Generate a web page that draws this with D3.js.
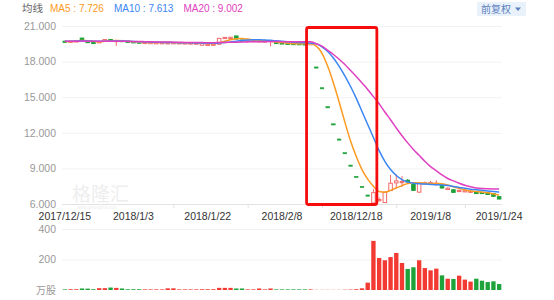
<!DOCTYPE html>
<html>
<head>
<meta charset="utf-8">
<script src="https://cdn.jsdelivr.net/npm/d3@7"></script>
<style>
  body { margin: 0; background: #fff; }
  svg { display: block; font-family: 'Liberation Sans', 'Noto Sans CJK SC', sans-serif; }
</style>
</head>
<body>
<svg id="chart" width="554" height="300"></svg>
<script>
const dates = [
  '2017/12/15', '2017/12/18', '2017/12/19', '2017/12/20', '2017/12/21', '2017/12/22', '2017/12/25', '2017/12/26',
  '2017/12/27', '2017/12/28', '2017/12/29', '2018/1/2', '2018/1/3', '2018/1/4', '2018/1/5', '2018/1/8',
  '2018/1/9', '2018/1/10', '2018/1/11', '2018/1/12', '2018/1/15', '2018/1/16', '2018/1/17', '2018/1/18',
  '2018/1/19', '2018/1/22', '2018/1/23', '2018/1/24', '2018/1/25', '2018/1/26', '2018/1/29', '2018/1/30',
  '2018/1/31', '2018/2/1', '2018/2/2', '2018/2/5', '2018/2/6', '2018/2/7', '2018/2/8', '2018/2/9',
  '2018/2/12', '2018/2/13', '2018/2/14', '2018/12/6', '2018/12/7', '2018/12/10', '2018/12/11', '2018/12/12',
  '2018/12/13', '2018/12/14', '2018/12/17', '2018/12/18', '2018/12/19', '2018/12/20', '2018/12/21', '2018/12/24',
  '2018/12/25', '2018/12/26', '2018/12/27', '2018/12/28', '2019/1/2', '2019/1/3', '2019/1/4', '2019/1/7',
  '2019/1/8', '2019/1/9', '2019/1/10', '2019/1/11', '2019/1/14', '2019/1/15', '2019/1/16', '2019/1/17',
  '2019/1/18', '2019/1/21', '2019/1/22', '2019/1/23', '2019/1/24'
]

const open = [
  19.72, 19.68, 19.72, 19.98, 19.70, 19.62, 19.58, 19.72, 19.86, 19.72, 19.78, 19.72, 19.68, 19.65, 19.58, 19.58,
  19.57, 19.56, 19.56, 19.57, 19.56, 19.55, 19.54, 19.53, 19.38, 19.42, 19.42, 19.46, 19.96, 19.98, 20.16, 19.82,
  19.76, 19.74, 19.72, 19.70, 19.70, 19.62, 19.58, 19.55, 19.53, 19.52, 19.50, 19.50,
  17.55, 15.80, 14.20, 12.76, 11.48, 10.33, 9.28, 8.33, 7.48, 6.76,
  6.08, 6.30, 6.12, 7.13, 7.78, 7.80, 8.00, 7.65, 7.00, 7.70, 7.72, 7.65, 7.60, 7.22, 7.20, 7.05,
  7.05, 7.00, 7.05, 6.98, 6.95, 6.88, 6.62
]
const high = [
  19.74, 19.74, 19.78, 20.00, 19.72, 19.64, 19.72, 19.90, 19.88, 19.82, 19.80, 19.74, 19.70, 19.66, 19.64, 19.63,
  19.62, 19.62, 19.61, 19.62, 19.61, 19.60, 19.59, 19.58, 19.60, 19.48, 19.49, 19.98, 20.08, 20.08, 20.18, 19.84,
  19.82, 19.80, 19.78, 19.76, 19.82, 19.64, 19.60, 19.56, 19.55, 19.53, 19.52, 19.52,
  17.55, 15.80, 14.20, 12.76, 11.48, 10.33, 9.28, 8.33, 7.48, 6.76,
  7.25, 6.55, 7.05, 8.45, 8.50, 8.35, 8.10, 7.75, 7.85, 7.90, 7.95, 8.00, 7.65, 7.40, 7.25, 7.20,
  7.20, 7.15, 7.10, 7.05, 7.00, 6.90, 6.65
]
const low = [
  19.66, 19.66, 19.70, 19.74, 19.56, 19.54, 19.56, 19.70, 19.72, 19.32, 19.70, 19.66, 19.62, 19.58, 19.56, 19.56,
  19.55, 19.54, 19.54, 19.55, 19.54, 19.53, 19.52, 19.51, 19.36, 19.40, 19.40, 19.44, 19.94, 19.96, 19.88, 19.76,
  19.74, 19.72, 19.70, 19.68, 19.28, 19.54, 19.50, 19.48, 19.46, 19.45, 19.46, 19.48,
  17.55, 15.80, 14.20, 12.76, 11.48, 10.33, 9.28, 8.33, 7.48, 6.76,
  6.08, 6.20, 6.10, 7.10, 7.35, 7.45, 7.80, 7.10, 6.95, 7.65, 7.65, 7.55, 7.30, 7.18, 6.95, 7.00,
  7.00, 6.95, 6.85, 6.85, 6.78, 6.60, 6.40
]
const close = [
  19.68, 19.72, 19.75, 19.76, 19.60, 19.57, 19.70, 19.86, 19.74, 19.78, 19.72, 19.68, 19.64, 19.60, 19.62, 19.61,
  19.60, 19.60, 19.59, 19.60, 19.59, 19.58, 19.57, 19.56, 19.58, 19.46, 19.47, 19.96, 20.04, 20.05, 19.90, 19.78,
  19.80, 19.78, 19.76, 19.74, 19.78, 19.56, 19.52, 19.50, 19.48, 19.47, 19.48, 19.50,
  17.55, 15.80, 14.20, 12.76, 11.48, 10.33, 9.28, 8.33, 7.48, 6.76,
  6.96, 6.38, 7.00, 7.75, 7.95, 7.90, 7.85, 7.15, 7.80, 7.78, 7.80, 7.75, 7.35, 7.33, 6.98, 7.15,
  7.12, 7.08, 6.88, 6.90, 6.80, 6.65, 6.42
]
// 万股
const volume = [
  4, 5, 5, 10, 9, 5, 12, 12, 16, 14, 10, 5, 5, 5, 4, 4, 4, 4, 11, 11, 4, 4, 4, 4, 5, 5, 5, 14, 14, 14, 10, 10,
  4, 4, 10, 4, 10, 4, 4, 4, 4, 4, 4, 4,
  1, 1, 1, 1, 1, 2, 3, 5, 11, 48,
  322, 210, 195, 216, 243, 177, 138, 149, 195, 144, 129, 140, 96, 74, 72, 94, 68, 55, 74, 61, 52, 57, 39
]

const ma5 = [
  19.70, 19.70, 19.72, 19.78, 19.76, 19.72, 19.68, 19.72, 19.76, 19.78, 19.76, 19.72, 19.68, 19.64, 19.62, 19.61,
  19.60, 19.60, 19.60, 19.60, 19.59, 19.58, 19.57, 19.56, 19.55, 19.53, 19.50, 19.60, 19.72, 19.84, 19.92, 19.94,
  19.90, 19.84, 19.80, 19.77, 19.72, 19.66, 19.60, 19.55, 19.52, 19.50, 19.50, 19.50,
  19.30, 18.70, 17.60, 16.20, 14.60, 12.90, 11.30, 10.00, 8.90, 8.10,
  7.50, 7.05, 7.00, 7.15, 7.35, 7.55, 7.72, 7.80, 7.80, 7.75, 7.72, 7.73, 7.70, 7.60, 7.45, 7.30,
  7.20, 7.10, 7.05, 7.00, 6.95, 6.85, 6.75
]
const ma10 = [
  19.72, 19.72, 19.73, 19.75, 19.74, 19.72, 19.71, 19.72, 19.73, 19.74, 19.74, 19.72, 19.70, 19.68, 19.66, 19.65,
  19.63, 19.62, 19.61, 19.60, 19.59, 19.58, 19.58, 19.57, 19.56, 19.55, 19.55, 19.57, 19.61, 19.66, 19.72, 19.77,
  19.81, 19.84, 19.84, 19.82, 19.79, 19.75, 19.71, 19.67, 19.63, 19.60, 19.58, 19.56,
  19.50, 19.25, 18.85, 18.30, 17.60, 16.80, 15.90, 14.90, 13.80, 12.70,
  11.60, 10.50, 9.60, 8.90, 8.40, 8.05, 7.85, 7.75, 7.70, 7.68, 7.65, 7.62, 7.60, 7.55, 7.48, 7.40,
  7.32, 7.25, 7.20, 7.15, 7.10, 7.05, 7.00
]
const ma20 = [
  19.72, 19.72, 19.72, 19.73, 19.72, 19.71, 19.71, 19.72, 19.72, 19.72, 19.72, 19.71, 19.70, 19.69, 19.68, 19.67,
  19.66, 19.66, 19.65, 19.64, 19.63, 19.62, 19.61, 19.60, 19.60, 19.59, 19.59, 19.60, 19.62, 19.63, 19.64, 19.65,
  19.66, 19.67, 19.67, 19.68, 19.69, 19.69, 19.68, 19.68, 19.68, 19.68, 19.68, 19.68,
  19.50, 19.30, 18.95, 18.60, 18.20, 17.75, 17.25, 16.75, 16.20, 15.65,
  15.05, 14.45, 13.75, 13.10, 12.40, 11.75, 11.15, 10.60, 10.10, 9.60, 9.15, 8.80, 8.45, 8.15, 7.95, 7.75,
  7.58, 7.45, 7.35, 7.30, 7.28, 7.27, 7.27
]

const priceTicks = [6, 9, 12, 15, 18, 21]
const volumeTicks = [200, 400]
const dateLabels = ['2017/12/15', '2018/1/3', '2018/1/22', '2018/2/8', '2018/12/18', '2019/1/8', '2019/1/24']
const dateTicks = ['2018/1/12', '2018/1/31', '2018/12/10', '2018/12/27', '2019/1/16']
const legend = [
  { name: 'MA5', value: '7.726', color: '#fd9a21' },
  { name: 'MA10', value: '7.613', color: '#3b86f4' },
  { name: 'MA20', value: '9.002', color: '#e040c0' }
]
const highlight = { from: '2018/2/14', to: '2018/12/21' }

const upColor = '#f23a33'
const downColor = '#1ea23a'

const svg = d3.select('#chart')
const left = 62
const right = 502

const x = d3.scaleBand().domain(dates).range([left, right])
const bw = x.bandwidth()
const cx = d => x(d) + bw / 2
const yPrice = d3.scaleLinear().domain([6, 21]).range([204, 26])
const yVol = d3.scaleLinear().domain([0, 400]).range([290, 229])

const bars = dates.map((date, i) => {
  let up = close[i] > open[i]
  if (close[i] === open[i]) up = i > 0 ? close[i] >= close[i - 1] : true
  return { date, open: open[i], high: high[i], low: low[i], close: close[i], volume: volume[i], up, volUp: close[i] >= open[i] }
})

svg.append('rect').attr('width', 554).attr('height', 300).attr('fill', '#fff')

// legend
svg.append('text')
  .attr('x', 22).attr('y', 12)
  .attr('font-size', 10.5).attr('fill', '#666')
  .text('均线')

let lx = 50
legend.forEach(item => {
  const t = svg.append('text')
    .attr('x', lx).attr('y', 12)
    .attr('font-size', 10).attr('fill', item.color)
    .text(`${item.name} : ${item.value}`)
  lx += t.node().getComputedTextLength() + 10
})

const btn = svg.append('g').attr('transform', 'translate(477, 2)')
btn.append('rect').attr('width', 49).attr('height', 14).attr('fill', '#e9f1fb')
btn.append('text')
  .attr('x', 4).attr('y', 11)
  .attr('font-size', 10).attr('fill', '#5b7fbd')
  .text('前复权')
btn.append('path').attr('d', 'M38,5.5 L44,5.5 L41,9 Z').attr('fill', '#5b7fbd')

// grids + y labels
const gPrice = svg.append('g')
  .attr('transform', `translate(${left},0)`)
  .call(d3.axisLeft(yPrice).tickValues(priceTicks).tickSize(-(right - left)).tickFormat(d3.format('.3f')))
gPrice.select('.domain').remove()
gPrice.selectAll('.tick line').attr('stroke', '#f2f2f2')
gPrice.selectAll('.tick text')
  .attr('x', -6).attr('fill', '#999').attr('font-size', 10.5).attr('font-family', null)

svg.append('line')
  .attr('x1', left).attr('x2', right)
  .attr('y1', yPrice(6) + 0.5).attr('y2', yPrice(6) + 0.5)
  .attr('stroke', '#e3e3e3')

svg.selectAll('.date-tick')
  .data(dateTicks)
  .join('line')
  .attr('class', 'date-tick')
  .attr('x1', d => cx(d) + 0.5).attr('x2', d => cx(d) + 0.5)
  .attr('y1', yPrice(6)).attr('y2', yPrice(6) + 4)
  .attr('stroke', '#e3e3e3')

svg.selectAll('.date-label')
  .data(dateLabels)
  .join('text')
  .attr('class', 'date-label')
  .attr('x', d => cx(d))
  .attr('y', 220)
  .attr('text-anchor', 'middle')
  .attr('font-size', 10.5)
  .attr('fill', '#333')
  .text(d => d)

const gVol = svg.append('g')
  .attr('transform', `translate(${left},0)`)
  .call(d3.axisLeft(yVol).tickValues(volumeTicks).tickSize(-(right - left)))
gVol.select('.domain').remove()
gVol.selectAll('.tick line').attr('stroke', '#f2f2f2')
gVol.selectAll('.tick text')
  .attr('x', -6).attr('fill', '#999').attr('font-size', 10.5).attr('font-family', null)

svg.append('text')
  .attr('x', left - 6).attr('y', yVol(0) + 4)
  .attr('text-anchor', 'end')
  .attr('font-size', 10).attr('fill', '#999')
  .text('万股')

// watermark
svg.append('text')
  .attr('x', 72).attr('y', 201)
  .attr('font-size', 19).attr('font-family', 'Noto Sans CJK SC')
  .attr('fill', '#eeeeee')
  .text('格隆汇')
svg.append('text')
  .attr('x', 77).attr('y', 209)
  .attr('font-size', 4.5).attr('fill', '#eeeeee')
  .text('www.gelonghui.com')

// volume bars
const vw = bw * 0.76
svg.selectAll('.vol')
  .data(bars)
  .join('rect')
  .attr('class', 'vol')
  .attr('x', d => cx(d.date) - vw / 2)
  .attr('width', vw)
  .attr('y', d => yVol(d.volume))
  .attr('height', d => yVol(0) - yVol(d.volume))
  .attr('fill', d => d.volUp ? upColor : downColor)

// candles
const cw = bw * 0.62
const candle = svg.selectAll('.candle')
  .data(bars)
  .join('g')
  .attr('class', 'candle')

candle.append('line')
  .attr('x1', d => cx(d.date)).attr('x2', d => cx(d.date))
  .attr('y1', d => yPrice(d.high)).attr('y2', d => yPrice(d.low))
  .attr('stroke', d => d.up ? '#f36a6a' : downColor)

candle.append('rect')
  .attr('x', d => cx(d.date) - cw / 2)
  .attr('width', cw)
  .attr('y', d => yPrice(Math.max(d.open, d.close)))
  .attr('height', d => Math.max(1.2, Math.abs(yPrice(d.open) - yPrice(d.close))))
  .attr('fill', d => d.up ? '#fff' : downColor)
  .attr('stroke', d => d.up ? '#f36a6a' : downColor)
  .attr('stroke-width', d => d.open === d.close ? 0.6 : 1)

// moving averages
const maSeries = [ma5, ma10, ma20]
maSeries.forEach((series, k) => {
  const line = d3.line()
    .x((d, i) => cx(dates[i]))
    .y(d => yPrice(d))
    .curve(d3.curveMonotoneX)
  svg.append('path')
    .datum(series)
    .attr('d', line)
    .attr('fill', 'none')
    .attr('stroke', legend[k].color)
    .attr('stroke-width', 1.5)
})

// red box over the suspension / limit-down run
const hx0 = cx(highlight.from) + bw * 0.3
const hx1 = cx(highlight.to) + bw * 0.6
svg.append('rect')
  .attr('x', hx0).attr('y', 27.5)
  .attr('width', hx1 - hx0).attr('height', 177)
  .attr('rx', 2)
  .attr('fill', 'none')
  .attr('stroke', '#f50d0d')
  .attr('stroke-width', 2.8)
</script>
</body>
</html>
